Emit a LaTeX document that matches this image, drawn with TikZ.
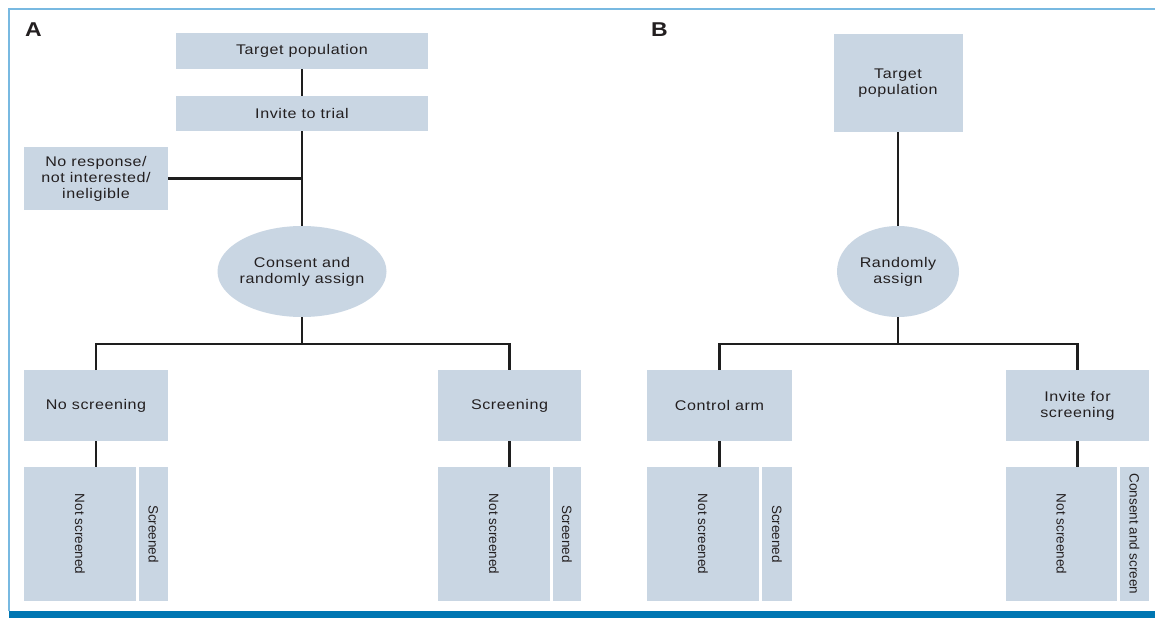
\documentclass[tikz,border=0pt]{standalone}
\usepackage{fontspec}
\usepackage{graphicx}
\setmainfont{Liberation Sans}[FakeStretch=1.15,LetterSpace=4]
\newfontfamily\vertfont{Liberation Sans}
\usetikzlibrary{shapes.geometric}
\definecolor{boxblue}{RGB}{201,214,227}
\definecolor{txt}{RGB}{35,31,32}
\definecolor{linec}{RGB}{30,30,30}
\definecolor{framec}{RGB}{120,185,225}
\definecolor{barblue}{RGB}{0,118,178}
\begin{document}
\begin{tikzpicture}[x=1pt,y=-1pt,
  box/.style={rectangle, fill=boxblue, inner sep=0pt, outer sep=0pt, align=center,
    text=txt, font=\fontsize{14}{16}\selectfont},
  oval/.style={ellipse, fill=boxblue, inner sep=-10pt, outer sep=0pt, align=center,
    text=txt, font=\fontsize{14}{16}\selectfont},
  vbox/.style={rectangle, fill=boxblue, inner sep=0pt, outer sep=0pt,
    text=txt, font=\vertfont\fontsize{13.5}{16}\selectfont},
  panel/.style={inner sep=0pt, outer sep=0pt, text=txt, anchor=north west,
    font=\bfseries\fontsize{20}{22}\selectfont},
  link/.style={draw=linec, line width=2.2pt},
  frame/.style={draw=framec, line width=1.4pt}]
\useasboundingbox (0,0) rectangle (1155,618);
\fill[white] (0,0) rectangle (1155,618);
\draw[frame] (9,611) -- (9,9) -- (1155,9);
\fill[barblue] (9,611) rectangle (1155,618);

% Panel A
\node[panel] (labA) at (25,23) {A};
\node[box, minimum width=252, minimum height=36] (tA) at (302,51) {Target population};
\node[box, minimum width=252, minimum height=35] (iA) at (302,113.5) {Invite to trial};
\node[box, minimum width=144, minimum height=63] (nr) at (96,178.5) {No response/\\not interested/\\ineligible};
\node[oval, minimum width=169, minimum height=91] (cA) at (302,271.5) {Consent and\\randomly assign};
\node[box, minimum width=144, minimum height=71] (nsA) at (96,405.5) {No screening};
\node[box, minimum width=143, minimum height=71] (sA) at (509.5,405.5) {Screening};
\node[vbox, minimum width=112, minimum height=134] (nsA1) at (80,534) {\rotatebox{-90}{Not screened}};
\node[vbox, minimum width=29, minimum height=134] (nsA2) at (153.5,534) {\rotatebox{-90}{Screened}};
\node[vbox, minimum width=112, minimum height=134] (sA1) at (494,534) {\rotatebox{-90}{Not screened}};
\node[vbox, minimum width=28, minimum height=134] (sA2) at (567,534) {\rotatebox{-90}{Screened}};
\coordinate (jA) at (302,344);

\draw[link] (tA.south) -- (iA.north);
\draw[link] (iA.south) -- (cA.north);
\draw[link] (nr.east) -- (nr.east -| iA.south);
\draw[link] (cA.south) -- (jA);
\draw[link] (nsA.north) |- (jA) -| (sA.north);
\draw[link] (nsA.south) -- (nsA.south |- nsA1.north);
\draw[link] (sA.south) -- (sA.south |- sA1.north);

% Panel B
\node[panel] (labB) at (651,23) {B};
\node[box, minimum width=129, minimum height=98] (tB) at (898,83) {Target\\population};
\node[oval, minimum width=122, minimum height=91] (cB) at (898,271.5) {Randomly\\assign};
\node[box, minimum width=145, minimum height=71] (caB) at (719.5,405.5) {Control arm};
\node[box, minimum width=143, minimum height=71] (ifB) at (1077.5,405.5) {Invite for\\screening};
\node[vbox, minimum width=112, minimum height=134] (caB1) at (703,534) {\rotatebox{-90}{Not screened}};
\node[vbox, minimum width=30, minimum height=134] (caB2) at (777,534) {\rotatebox{-90}{Screened}};
\node[vbox, minimum width=111, minimum height=134] (ifB1) at (1061.5,534) {\rotatebox{-90}{Not screened}};
\node[vbox, minimum width=29, minimum height=134] (ifB2) at (1134.5,534) {\rotatebox{-90}{Consent and screen}};
\coordinate (jB) at (898,344);

\draw[link] (tB.south) -- (cB.north);
\draw[link] (cB.south) -- (jB);
\draw[link] (caB.north) |- (jB) -| (ifB.north);
\draw[link] (caB.south) -- (caB.south |- caB1.north);
\draw[link] (ifB.south) -- (ifB.south |- ifB1.north);
\end{tikzpicture}
\end{document}
